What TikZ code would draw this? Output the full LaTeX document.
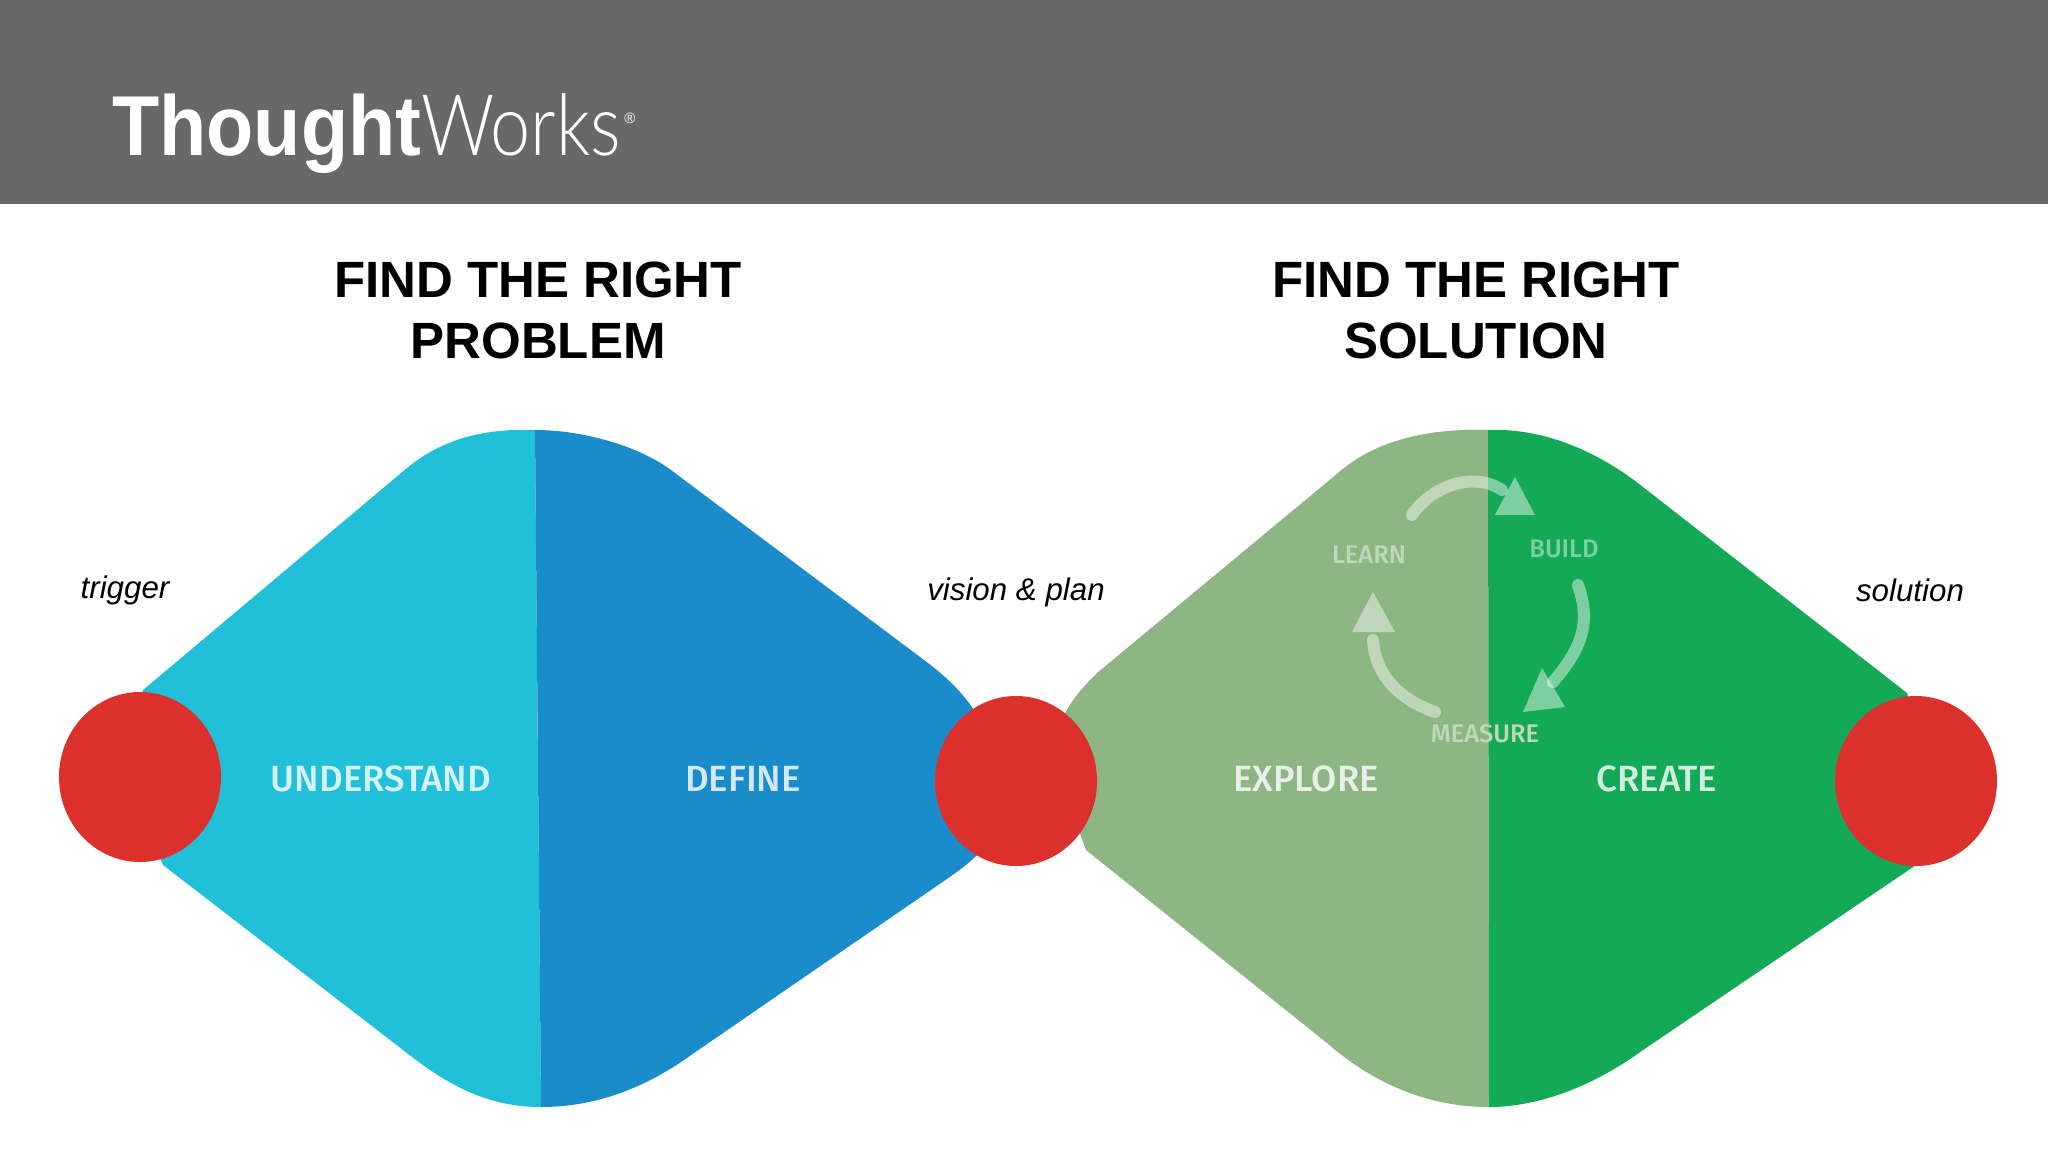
\documentclass[tikz,border=0pt]{standalone}
\usepackage{fontspec}
\usepackage{graphicx}
\setmainfont{Liberation Sans}
\newfontfamily\logolight{Lato Light}
\newfontfamily\stagefont{Fira Sans Medium}
\definecolor{hdr}{HTML}{686868}
\definecolor{cyanpart}{HTML}{22C0D8}
\definecolor{bluepart}{HTML}{1A8BCB}
\definecolor{sagepart}{HTML}{8EB684}
\definecolor{greenpart}{HTML}{13A957}
\definecolor{dot}{HTML}{DC302C}
\usetikzlibrary{shapes.geometric}
\tikzset{
  x=1pt,y=-1pt,
  heading/.style={font=\fontsize{51}{61}\selectfont\bfseries,align=center,text=black,inner sep=0pt},
  side/.style={font=\fontsize{31.3}{36}\selectfont\itshape,text=black,inner sep=0pt},
  stage/.style={font=\fontsize{36.5}{40}\stagefont\selectfont,inner sep=0pt},
  small/.style={font=\fontsize{25.5}{30}\stagefont\selectfont,inner sep=0pt},
  reddot/.style={ellipse,fill=dot,minimum width=162pt,minimum height=170pt,inner sep=0pt},
  cyc/.style={draw=white,draw opacity=.45,line width=12pt,line cap=round},
  cychead/.style={fill=white,fill opacity=.45}
}
\begin{document}
\begin{tikzpicture}
\useasboundingbox (0,0) rectangle (2048,1152);
\fill[white] (0,0) rectangle (2048,1152);
\fill[hdr] (0,0) rectangle (2048,204);
% logo
\node[anchor=base west,inner sep=0pt,text=white] (logo) at (112,155)
  {\resizebox{309pt}{\height}{\fontsize{85}{85}\selectfont\bfseries Thought}};
\node[anchor=base west,inner sep=0pt,text=white] (logob) at (421,155)
  {\resizebox{200pt}{\height}{\fontsize{85}{85}\logolight\selectfont Works}};
\node[inner sep=0pt,text=white,font=\fontsize{15}{15}\selectfont] (reg) at (630,118) {®};
% headings
\node[heading] (h1) at (538,310) {FIND THE RIGHT\\PROBLEM};
\node[heading] (h2) at (1476,310) {FIND THE RIGHT\\SOLUTION};
% left blob
\fill[cyanpart] (535,430) .. controls (480,428) and (440,441) .. (407,468)
  -- (143,690) -- (125,780) -- (163,865) -- (407,1053)
  .. controls (450,1087) and (490,1107) .. (541,1107) -- cycle;
\fill[bluepart] (535,430) .. controls (585,430) and (640,447) .. (671,470)
  -- (924,660) .. controls (955,683) and (975,705) .. (990,740)
  -- (1000,800) -- (990,840) .. controls (975,860) and (960,870) .. (941,883)
  -- (694,1053) .. controls (650,1085) and (600,1107) .. (541,1107) -- cycle;
% right blob
\fill[sagepart] (1488,430) .. controls (1430,428) and (1375,440) .. (1338,473)
  -- (1097,673) .. controls (1080,690) and (1072,700) .. (1064,715)
  -- (1060,780) -- (1086,850) -- (1327,1043)
  .. controls (1375,1085) and (1430,1107) .. (1489,1107) -- cycle;
\fill[greenpart] (1488,430) .. controls (1535,428) and (1590,445) .. (1643,487)
  -- (1907,693) -- (1935,780) -- (1919,863) -- (1643,1050)
  .. controls (1595,1085) and (1540,1107) .. (1489,1107) -- cycle;
% dots
\node[reddot] (t) at (140,777) {};
\node[reddot] (v) at (1016,781) {};
\node[reddot] (s) at (1916,781) {};
% side labels
\node[side] (l1) at (125,590) {trigger};
\node[side] (l2) at (1016,592) {vision \& plan};
\node[side] (l3) at (1910,590) {solution};
% stages
\node[stage,text=white!80!cyanpart] (u) at (381,779) {UNDERSTAND};
\node[stage,text=white!80!bluepart] (d) at (743,779) {DEFINE};
\node[stage,text=white!80!sagepart] (e) at (1306,779) {EXPLORE};
\node[stage,text=white!80!greenpart] (c) at (1657,779) {CREATE};
% cycle
\node[small,text=white!45!sagepart] (learn) at (1369,555) {LEARN};
\node[small,text=white!45!greenpart] (build) at (1564,549) {BUILD};
\node[small,text=white!45!sagepart] (measure) at (1485,734) {MEASURE};
\coordinate (a1s) at (1412,515);
\coordinate (a1e) at (1502,490);
\coordinate (a2s) at (1578,585);
\coordinate (a2e) at (1553,682);
\coordinate (a3s) at (1435,712);
\coordinate (a3e) at (1373,640);
\draw[cyc] (a1s) .. controls (1430,488) and (1472,470) .. (a1e);
\fill[cychead] (1515,477) -- (1495,515) -- (1535,515) -- cycle;
\draw[cyc] (a2s) .. controls (1592,625) and (1580,650) .. (a2e);
\fill[cychead] (1542,668) -- (1523,712) -- (1565,707) -- cycle;
\draw[cyc] (a3s) .. controls (1400,700) and (1375,675) .. (a3e);
\fill[cychead] (1373,592) -- (1352,632) -- (1395,632) -- cycle;
\end{tikzpicture}
\end{document}
